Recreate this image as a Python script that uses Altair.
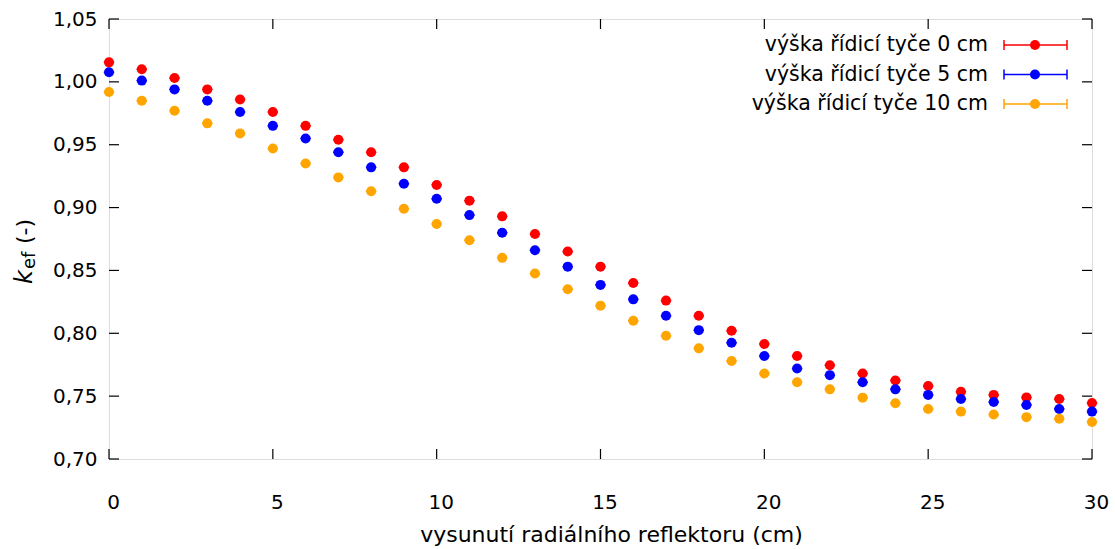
import altair as alt
import pandas as pd

# ---- data ----
x_pos = [0, 1, 2, 3, 4, 5, 6, 7, 8, 9, 10, 11, 12, 13, 14, 15, 16, 17, 18, 19, 20,
         21, 22, 23, 24, 25, 26, 27, 28, 29, 30]
k_0cm = [1.0155, 1.010, 1.003, 0.994, 0.986, 0.976, 0.965, 0.954, 0.944, 0.932, 0.918,
         0.9055, 0.893, 0.879, 0.865, 0.853, 0.840, 0.826, 0.814, 0.802, 0.7915,
         0.782, 0.7746, 0.768, 0.7625, 0.758, 0.7535, 0.751, 0.749, 0.7477, 0.7446]
k_5cm = [1.0076, 1.001, 0.994, 0.985, 0.976, 0.965, 0.955, 0.944, 0.932, 0.919, 0.907,
         0.894, 0.880, 0.866, 0.853, 0.8385, 0.827, 0.814, 0.8025, 0.7925, 0.782,
         0.772, 0.7667, 0.761, 0.7554, 0.751, 0.7477, 0.7453, 0.743, 0.7398, 0.7377]
k_10cm = [0.992, 0.985, 0.977, 0.967, 0.959, 0.947, 0.935, 0.924, 0.913, 0.899, 0.887,
          0.874, 0.860, 0.8475, 0.835, 0.822, 0.810, 0.798, 0.788, 0.778, 0.768,
          0.761, 0.7554, 0.7488, 0.7443, 0.7398, 0.7377, 0.7354, 0.7333, 0.732, 0.7295]
x_err = 0.16

series_names = ["výška řídicí tyče 0 cm", "výška řídicí tyče 5 cm", "výška řídicí tyče 10 cm"]
series_colors = ["#ff0000", "#0000ff", "#ffa500"]
series_values = [k_0cm, k_5cm, k_10cm]

x_ticks = [0, 5, 10, 15, 20, 25, 30]
y_ticks = [0.70, 0.75, 0.80, 0.85, 0.90, 0.95, 1.00, 1.05]

rows = []
for order, (name, vals) in enumerate(zip(series_names, series_values)):
    for xv, yv in zip(x_pos, vals):
        rows.append({"x": xv, "y": yv, "xlo": xv - x_err, "xhi": xv + x_err,
                     "series": name, "order": order})
df = pd.DataFrame(rows)

FONT = "DejaVu Sans"
FS = 20
W, H = 983, 440
PT = 100

X_SCALE = alt.Scale(domain=[0, 30], nice=False, zero=False)
Y_SCALE = alt.Scale(domain=[0.70, 1.05], nice=False, zero=False)
X_AXIS = alt.Axis(values=x_ticks, tickSize=0, domain=False, grid=False,
                  labelFontSize=FS, labelFont=FONT, labelColor="black",
                  labelPadding=33, labelOffset=4, labelFlush=False,
                  title="vysunutí radiálního reflektoru (cm)",
                  titleFont=FONT, titleFontSize=22, titleFontWeight="normal",
                  titleColor="black", titleY=82, titleX=502, titleAlign="center",
                  titleBaseline="alphabetic")
Y_AXIS = alt.Axis(values=y_ticks, tickSize=0, domain=False, grid=False,
                  labelFontSize=FS, labelFont=FONT, labelColor="black",
                  labelPadding=12, labelFlush=False,
                  labelExpr="replace(format(datum.value, '.2f'), '.', ',')",
                  title="")


def xenc(field):
    return alt.X(f"{field}:Q", scale=X_SCALE, axis=X_AXIS)


def yenc(field):
    return alt.Y(f"{field}:Q", scale=Y_SCALE, axis=Y_AXIS)


COLOR = alt.Color("series:N", scale=alt.Scale(domain=series_names, range=series_colors),
                  legend=None)

base = alt.Chart(df)
errbars = base.mark_rule(strokeWidth=1.5).encode(
    x=xenc("xlo"), x2="xhi:Q", y=yenc("y"), color=COLOR, order="order:Q"
)
points = base.mark_circle(size=PT, opacity=1).encode(
    x=xenc("x"), y=yenc("y"), color=COLOR, order="order:Q"
)

# inward ticks on all four sides
xt_df = pd.DataFrame({"x": x_ticks})
yt_df = pd.DataFrame({"y": y_ticks})
tick_style = dict(color="black", strokeWidth=1.2)
xt_bottom = alt.Chart(xt_df).mark_rule(**tick_style).encode(x=xenc("x"), y=alt.value(H), y2=alt.value(H - 10))
xt_top = alt.Chart(xt_df).mark_rule(**tick_style).encode(x=xenc("x"), y=alt.value(0), y2=alt.value(10))
yt_left = alt.Chart(yt_df).mark_rule(**tick_style).encode(y=yenc("y"), x=alt.value(0), x2=alt.value(10))
yt_right = alt.Chart(yt_df).mark_rule(**tick_style).encode(y=yenc("y"), x=alt.value(W), x2=alt.value(W - 10))

# y-axis title: k_ef (-)
one = pd.DataFrame({"a": [0]})
yt_k = alt.Chart(one).mark_text(text="k", font=FONT, fontSize=24, fontStyle="italic",
                                angle=270, align="left", baseline="alphabetic", color="black"
                                ).encode(x=alt.value(-77), y=alt.value(265))
yt_ef = alt.Chart(one).mark_text(text="ef", font=FONT, fontSize=18,
                                 angle=270, align="left", baseline="alphabetic", color="black"
                                 ).encode(x=alt.value(-74), y=alt.value(250))
yt_unit = alt.Chart(one).mark_text(text="(-)", font=FONT, fontSize=22,
                                   angle=270, align="left", baseline="alphabetic", color="black"
                                   ).encode(x=alt.value(-77), y=alt.value(225))

# legend (gnuplot style: label on the left, sample on the right)
legend_layers = []
for i, (name, col) in enumerate(zip(series_names, series_colors)):
    ly = 26 + 29.5 * i
    legend_layers.append(alt.Chart(one).mark_text(text=name, font=FONT, fontSize=20.5, align="right",
                                                  baseline="middle", color="black"
                                                  ).encode(x=alt.value(879), y=alt.value(ly)))
    legend_layers.append(alt.Chart(one).mark_rule(color=col, strokeWidth=1.5).encode(
        x=alt.value(895), x2=alt.value(958), y=alt.value(ly)))
    legend_layers.append(alt.Chart(one).mark_rule(color=col, strokeWidth=1.5).encode(
        x=alt.value(895), y=alt.value(ly - 5), y2=alt.value(ly + 5)))
    legend_layers.append(alt.Chart(one).mark_rule(color=col, strokeWidth=1.5).encode(
        x=alt.value(958), y=alt.value(ly - 5), y2=alt.value(ly + 5)))
    legend_layers.append(alt.Chart(one).mark_circle(color=col, size=PT, opacity=1).encode(
        x=alt.value(926), y=alt.value(ly)))

chart = alt.layer(
    points, errbars, xt_bottom, xt_top, yt_left, yt_right, yt_k, yt_ef, yt_unit, *legend_layers
).properties(
    width=W, height=H,
    autosize=alt.AutoSizeParams(type="none"),
    padding={"left": 109, "top": 19, "right": 23, "bottom": 90},
).configure_view(stroke="black", strokeWidth=1.5).configure(background="white")

chart.save("out.html", embed_options={"renderer": "svg", "actions": False})
